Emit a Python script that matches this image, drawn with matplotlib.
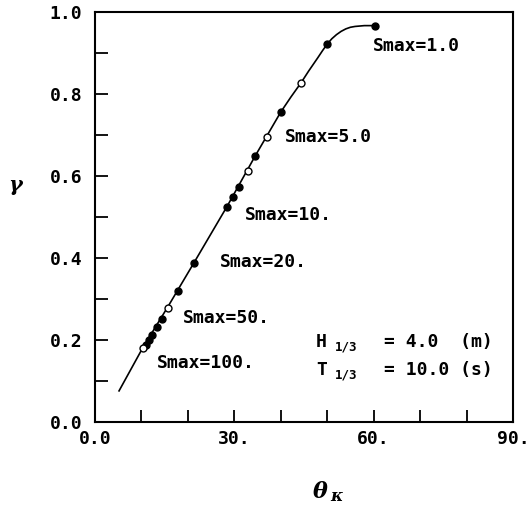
import numpy as np
import matplotlib.pyplot as plt

# ── Data ─────────────────────────────────────────────────────
# solid curve (theta_K, gamma)
curve_x = [5.2, 10.3, 15.7, 21.3, 28.4, 34.5, 40.0, 42.2, 44.4, 46.0, 48.0, 49.0,
           50.0, 51.0, 52.0, 53.0, 54.0, 55.0, 56.0, 58.0, 60.3]
curve_y = [0.075, 0.180, 0.280, 0.387, 0.524, 0.648, 0.755, 0.792, 0.827, 0.855, 0.888, 0.905,
           0.921, 0.934, 0.944, 0.952, 0.958, 0.962, 0.964, 0.966, 0.966]

# filled markers
pt_x = [60.3, 50.0, 40.0, 34.5, 31.0, 29.7, 28.4, 21.3, 17.9, 14.4, 13.4, 12.3, 11.7, 11.1]
pt_y = [0.966, 0.921, 0.755, 0.648, 0.573, 0.548, 0.524, 0.387, 0.319, 0.251, 0.231, 0.211, 0.199, 0.187]

# open markers
open_x = [44.4, 37.0, 32.9, 15.7, 10.3]
open_y = [0.827, 0.694, 0.612, 0.277, 0.180]

labels = ["Smax=1.0", "Smax=5.0", "Smax=10.", "Smax=20.", "Smax=50.", "Smax=100."]
label_x = [59.9, 40.9, 32.3, 26.8, 18.9, 13.4]
label_y = [0.917, 0.695, 0.504, 0.390, 0.252, 0.144]

xticks = [0, 30, 60, 90]
xticklabels = ["0.0", "30.", "60.", "90."]
yticks = [0.0, 0.2, 0.4, 0.6, 0.8, 1.0]
yticklabels = ["0.0", "0.2", "0.4", "0.6", "0.8", "1.0"]

mono = dict(family='DejaVu Sans Mono', fontweight='bold', fontsize=13)

fig = plt.figure(figsize=(5.3, 5.08), dpi=100)
ax = fig.add_axes([0.179, 0.170, 0.789, 0.807])

ax.plot(curve_x, curve_y, color='black', lw=1.2, zorder=2)
ax.plot(pt_x, pt_y, 'o', color='black', ms=5, zorder=3)
ax.plot(open_x, open_y, 'o', mfc='white', mec='black', mew=1.0, ms=5, zorder=3)

for s, x, y in zip(labels, label_x, label_y):
    ax.text(x, y, s, va='center', ha='left', **mono)

# H 1/3 and T 1/3 annotation
for name, val, y in [("H", "= 4.0  (m)", 0.195), ("T", "= 10.0 (s)", 0.126)]:
    ax.text(47.6, y, name, va='center', ha='left', **mono)
    ax.text(51.6, y - 0.012, "1/3", va='center', ha='left',
            family='DejaVu Sans Mono', fontweight='bold', fontsize=9)
    ax.text(62.2, y, val, va='center', ha='left', **mono)

ax.set_xlim(0, 90)
ax.set_ylim(0, 1.0)
ax.set_xticks(xticks)
ax.set_xticklabels(xticklabels, **mono)
ax.set_yticks(yticks)
ax.set_yticklabels(yticklabels, **mono)
ax.set_xticks(np.arange(0, 91, 10), minor=True)
ax.set_yticks(np.arange(0, 1.01, 0.1), minor=True)
ax.tick_params(which='both', direction='in', length=9, width=1.3, top=False, right=False)
ax.tick_params(axis='x', pad=6)
ax.tick_params(axis='y', pad=9)
for sp in ax.spines.values():
    sp.set_linewidth(1.5)

serif = dict(family='DejaVu Serif', fontweight='bold', fontstyle='italic')
fig.text(0.015, 0.636, 'γ', fontsize=15, ha='left', va='center', **serif)
fig.text(0.605, 0.032, 'θ', fontsize=16, ha='center', va='center', **serif)
fig.text(0.635, 0.022, 'κ', fontsize=12, ha='center', va='center', **serif)

fig.savefig('out.png', dpi=100)
